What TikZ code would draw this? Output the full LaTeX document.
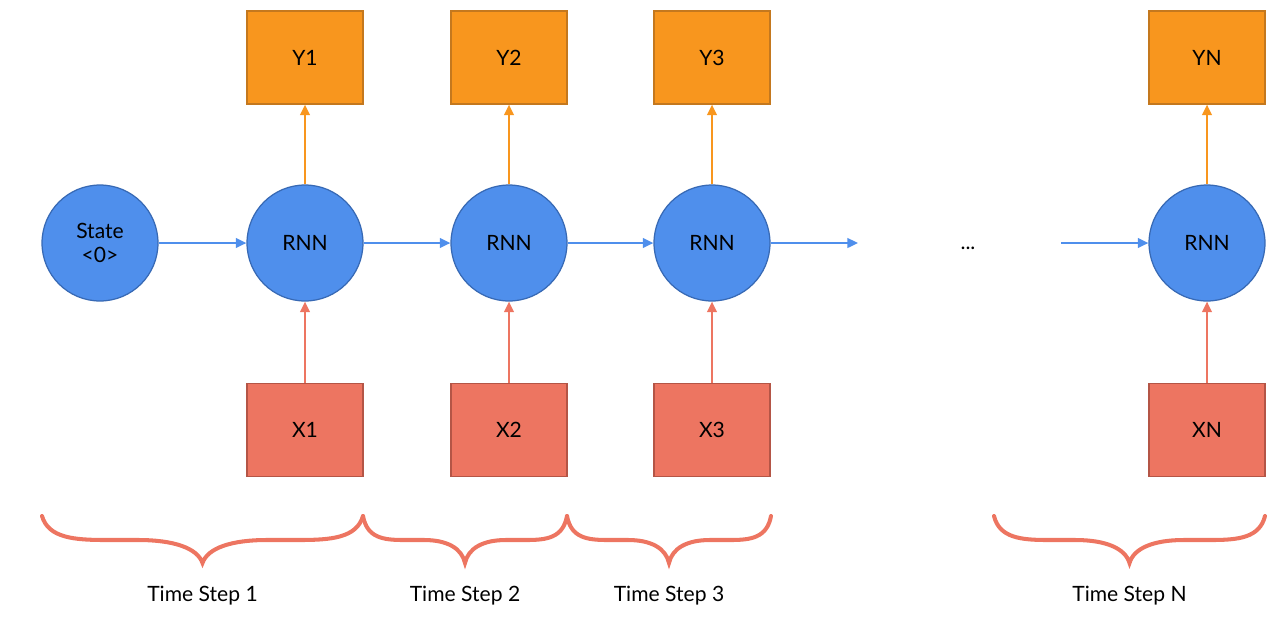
\documentclass[tikz,border=0pt]{standalone}
\usepackage{fontspec}
\setmainfont{Lato}
\usetikzlibrary{arrows.meta}
\definecolor{rnnblue}{RGB}{79,143,236}
\definecolor{rnnedge}{RGB}{55,105,180}
\definecolor{outorange}{RGB}{248,150,30}
\definecolor{outedge}{RGB}{196,120,30}
\definecolor{inred}{RGB}{237,117,97}
\definecolor{inedge}{RGB}{180,85,70}
\tikzset{
  cell/.style={circle,fill=rnnblue,draw=rnnedge,line width=0.7pt,minimum size=2.32cm,inner sep=0pt,align=center},
  outbox/.style={rectangle,fill=outorange,draw=outedge,line width=0.7pt,minimum width=2.32cm,minimum height=1.86cm},
  inbox/.style={rectangle,fill=inred,draw=inedge,line width=0.7pt,minimum width=2.32cm,minimum height=1.86cm},
  link/.style={line width=1.1pt,-{Triangle[length=6pt,width=5.5pt]}},
}
\begin{document}
\begin{tikzpicture}[x=0.02cm,y=-0.02cm,font=\fontsize{12}{14}\selectfont]
                \useasboundingbox (0,0) rectangle (1278,620);
                % cells
                \node[cell] (s0) at (100,243) {State\\<0>};
                \node[cell] (r1) at (305,243) {RNN};
                \node[cell] (r2) at (509,243) {RNN};
                \node[cell] (r3) at (712,243) {RNN};
                \node[cell] (rn) at (1207,243) {RNN};
                \node (dots) at (968,248) {...};
                \coordinate (gapa) at (858,243);
                \coordinate (gapb) at (1061,243);
                % outputs and inputs
                \foreach \i/\x in {1/305,2/509,3/712,N/1207} {
                    \node[outbox] (y\i) at (\x,57.5) {Y\i};
                    \node[inbox] (x\i) at (\x,430) {X\i};
                }
                % recurrent links
                \draw[link,rnnblue] (s0) -- (r1);
                \draw[link,rnnblue] (r1) -- (r2);
                \draw[link,rnnblue] (r2) -- (r3);
                \draw[link,rnnblue] (r3) -- (gapa);
                \draw[link,rnnblue] (gapb) -- (rn);
                \draw[link,outorange] (r1) -- (y1);
                \draw[link,outorange] (r2) -- (y2);
                \draw[link,outorange] (r3) -- (y3);
                \draw[link,outorange] (rn) -- (yN);
                \draw[link,inred] (x1) -- (r1);
                \draw[link,inred] (x2) -- (r2);
                \draw[link,inred] (x3) -- (r3);
                \draw[link,inred] (xN) -- (rn);
                % braces
                \foreach \a/\b/\t in {42/363/1,363/567/2,567/771/3,994/1265/N} {
                    \pgfmathsetmacro{\m}{(\a+\b)/2}
                    \pgfmathsetmacro{\w}{0.2*(\b-\a)}
                    \draw[inred,line width=2.3pt,line cap=round]
                        (\a,516) .. controls (\a+0.1*\w,538) and (\a+0.5*\w,540) .. (\a+\w,540)
                        -- (\m-\w,540) .. controls (\m-0.45*\w,540) and (\m-0.08*\w,548) .. (\m,563)
                        .. controls (\m+0.08*\w,548) and (\m+0.45*\w,540) .. (\m+\w,540)
                        -- (\b-\w,540) .. controls (\b-0.5*\w,540) and (\b-0.1*\w,538) .. (\b,516);
                    \node (ts\t) at (\m,596) {Time Step \t};
                }
            \end{tikzpicture}
\end{document}
